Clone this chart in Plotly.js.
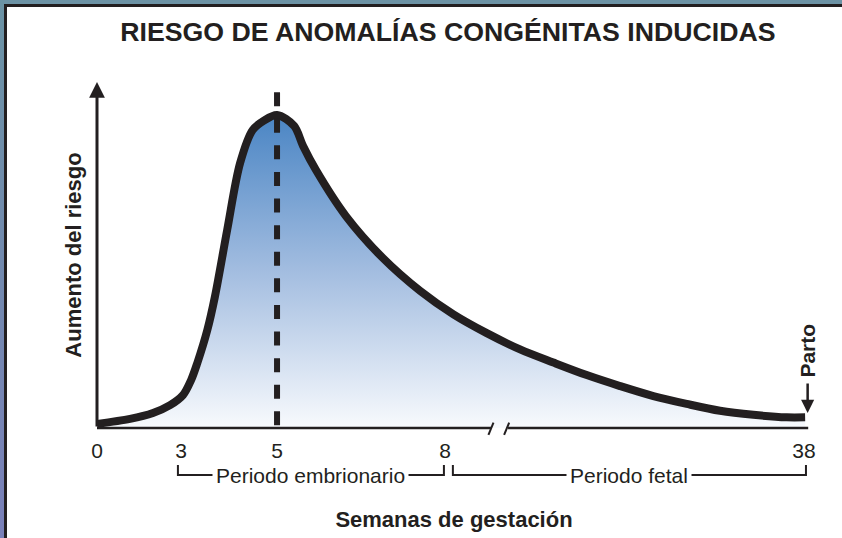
<!DOCTYPE html>
<html>
<head>
<meta charset="utf-8">
<script src="https://cdn.plot.ly/plotly-3.0.1.min.js"></script>
<style>
  html, body { margin: 0; padding: 0; background: #ffffff; overflow: hidden; }
  #chart { position: absolute; left: 0; top: 0; width: 842px; height: 538px; }
  .frame { position: absolute; z-index: 10; }
</style>
</head>
<body>
<div id="chart"></div>
<div class="frame" style="left:0;top:0;width:842px;height:4px;background:#6d93a5;"></div>
<div class="frame" style="left:0;top:0;width:4px;height:538px;background:linear-gradient(#6b93a4,#7a80b9);"></div>
<div class="frame" style="left:4px;top:4px;width:838px;height:3px;background:#231f20;"></div>
<div class="frame" style="left:4px;top:4px;width:3px;height:534px;background:#231f20;"></div>
<script>
// ---- Data (schematic: x in display position units, y = relative risk, peak = 100) ----
const weekLabels = ['0', '3', '5', '8', '38'];
const weekPos    = [0, 3.0, 6.43, 12.43, 25.25];

const curveX = [0, 1.18, 2.0, 2.61, 3.07, 3.36, 3.58, 3.94, 4.21, 4.65, 5.11, 5.56, 5.96, 6.43, 7.04,
                7.36, 7.82, 8.89, 10.21, 11.54, 12.73, 13.92, 15.11, 16.30, 17.49, 18.68, 19.87,
                21.06, 22.25, 23.44, 24.63, 25.29];
const curveY = [1.3, 2.9, 4.8, 7.3, 10.5, 15.3, 20.7, 31.3, 41.9, 63.3, 84.6, 95.2, 98.2, 100, 96.5,
                90.1, 82.4, 67.7, 54.3, 43.8, 36.3, 30.3, 25.1, 20.9, 16.9, 13.4, 10.2,
                7.7, 5.5, 4.2, 3.4, 3.4];

const periodNames  = ['Periodo embrionario', 'Periodo fetal'];
const periodStarts = [2.89, 12.71];
const periodEnds   = [12.39, 25.32];

const peakWeekPos = 6.43;        // week 5
const breakPos = [14.07, 14.68]; // axis break
const deliveryPos = 25.38;
const axisEnd = 25.4;

const titleText = 'RIESGO DE ANOMALÍAS CONGÉNITAS INDUCIDAS';
const xTitle = 'Semanas de gestación';
const yTitle = 'Aumento del riesgo';

// ---- Styling ----
const ink = '#231f20';
const FONT = 'Liberation Sans, Arial, Helvetica, sans-serif';
const xMax = 25.5, yMax = 110.54;

const trace = {
  x: curveX, y: curveY,
  type: 'scatter', mode: 'lines',
  line: { color: ink, width: 8, shape: 'spline', smoothing: 0.9 },
  fill: 'tozeroy',
  fillgradient: {
    type: 'vertical', start: 0, stop: 100,
    colorscale: [[0, '#f8fafd'], [0.5, '#a3bde0'], [1, '#4a85c4']]
  },
  hoverinfo: 'skip', showlegend: false
};

const shapes = [];
// x axis with break
shapes.push({ type: 'line', xref: 'x', yref: 'paper', x0: 0, x1: breakPos[0], y0: 0, y1: 0, line: { color: ink, width: 2.5 } });
shapes.push({ type: 'line', xref: 'x', yref: 'paper', x0: breakPos[1], x1: axisEnd, y0: 0, y1: 0, line: { color: ink, width: 2.5 } });
// break slashes
[[13.98, 14.16], [14.54, 14.72]].forEach(s => {
  shapes.push({ type: 'line', xref: 'x', yref: 'paper', x0: s[0], x1: s[1], y0: -0.0202, y1: 0.0153, line: { color: ink, width: 2 } });
});
// dashed line at week 5
shapes.push({ type: 'line', xref: 'x', yref: 'y', x0: peakWeekPos, x1: peakWeekPos, y0: 107.3, y1: 0.6,
  line: { color: ink, width: 6, dash: '14px,12.6px' } });
// period brackets
for (let i = 0; i < periodNames.length; i++) {
  const a = periodStarts[i], b = periodEnds[i];
  shapes.push({ type: 'path', xref: 'x', yref: 'paper',
    path: `M ${a},-0.1069 L ${a},-0.1358 L ${b},-0.1358 L ${b},-0.1069`,
    line: { color: ink, width: 2 } });
}

const annotations = [];
// y axis arrow
annotations.push({ x: 0, y: yMax, xref: 'x', yref: 'y', ax: 0, ay: 346, axref: 'pixel', ayref: 'pixel',
  text: '', showarrow: true, arrowhead: 2, arrowwidth: 3, arrowsize: 1.05, arrowcolor: ink });
// Parto arrow
annotations.push({ x: deliveryPos, y: 4.8, xref: 'x', yref: 'y', ax: 0, ay: -62,
  text: 'Parto', textangle: -90, font: { family: FONT, size: 21, color: ink, weight: 'bold' },
  showarrow: true, arrowhead: 2, arrowwidth: 2.5, arrowsize: 1.05, arrowcolor: ink, startstandoff: 4 });
// period labels
for (let i = 0; i < periodNames.length; i++) {
  annotations.push({ x: (periodStarts[i] + periodEnds[i]) / 2, y: -0.1385, xref: 'x', yref: 'paper',
    text: periodNames[i], showarrow: false, bgcolor: '#ffffff', borderpad: 3,
    font: { family: FONT, size: 21, color: ink }, xanchor: 'center', yanchor: 'middle' });
}

const layout = {
  width: 842, height: 538,
  margin: { l: 97, r: 31, t: 82, b: 110 },
  paper_bgcolor: '#ffffff', plot_bgcolor: 'rgba(0,0,0,0)',
  title: { text: titleText, x: 0.532, xref: 'container', xanchor: 'center', y: 0.9405, yref: 'container', yanchor: 'middle',
    font: { family: FONT, size: 26.7, color: ink, weight: 'bold' } },
  xaxis: {
    range: [0, xMax], showgrid: false, zeroline: false, showline: false, ticks: '',
    tickmode: 'array', tickvals: weekPos, ticktext: weekLabels, ticklabelstandoff: 8,
    tickfont: { family: FONT, size: 21, color: ink },
    title: { text: xTitle, standoff: 50, font: { family: FONT, size: 22, color: ink, weight: 'bold' } },
    fixedrange: true
  },
  yaxis: {
    range: [0, yMax], showgrid: false, zeroline: false, showline: false, ticks: '', showticklabels: false,
    title: { text: yTitle, standoff: 8, font: { family: FONT, size: 22, color: ink, weight: 'bold' } },
    fixedrange: true
  },
  shapes: shapes,
  annotations: annotations,
  showlegend: false
};

Plotly.newPlot('chart', [trace], layout, { displayModeBar: false, staticPlot: true });
</script>
</body>
</html>
